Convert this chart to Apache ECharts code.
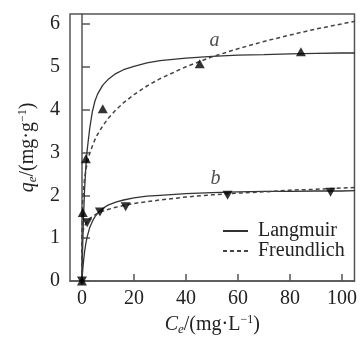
<!DOCTYPE html>
<html>
<head>
<meta charset="utf-8">
<script src="https://cdn.jsdelivr.net/npm/echarts@6/dist/echarts.min.js"></script>
<style>
* { margin: 0; padding: 0; }
html, body { width: 360px; height: 341px; background: #fff; }
</style>
</head>
<body>
<div id="chart" style="width: 360px;height: 341px;"></div>
<script>
var cGrid = [0, 0.01, 0.1, 0.2, 0.5, 1, 1.5, 2, 3, 4, 5, 6, 8, 10, 13, 16, 20, 25, 30, 40, 50, 60, 70, 80, 90, 100, 105];
var langA = [0, 0.04, 0.33, 0.62, 1.32, 2.13, 2.67, 3.05, 3.57, 3.95, 4.20, 4.36, 4.57, 4.70, 4.84, 4.93, 5.01, 5.09, 5.14, 5.20, 5.24, 5.27, 5.28, 5.30, 5.31, 5.32, 5.32];
var freA  = [0, 0.95, 1.51, 1.73, 2.08, 2.39, 2.59, 2.75, 2.98, 3.15, 3.30, 3.42, 3.62, 3.79, 3.99, 4.16, 4.35, 4.55, 4.72, 5.00, 5.23, 5.42, 5.59, 5.74, 5.88, 6.00, 6.06];
var langB = [0, 0.01, 0.10, 0.18, 0.40, 0.68, 0.88, 1.03, 1.25, 1.39, 1.50, 1.58, 1.69, 1.77, 1.84, 1.89, 1.94, 1.98, 2.00, 2.04, 2.06, 2.08, 2.09, 2.09, 2.10, 2.10, 2.11];
var freB  = [0, 0.76, 0.99, 1.07, 1.19, 1.28, 1.34, 1.39, 1.46, 1.50, 1.54, 1.58, 1.63, 1.67, 1.72, 1.76, 1.81, 1.85, 1.89, 1.96, 2.01, 2.05, 2.08, 2.12, 2.14, 2.17, 2.18];

// measured points
var ptsAC = [0, 0.3, 1.5, 8, 45.3, 84.2];
var ptsAQ = [0, 1.6, 2.85, 4.02, 5.07, 5.35];
var ptsBC = [0, 2, 6.9, 16.8, 56, 95.6];
var ptsBQ = [0, 1.36, 1.61, 1.73, 2.0, 2.07];

// curve tags
var tagText = ['a', 'b'];
var tagC = [51, 51.4];
var tagQ = [5.6, 2.39];

var xTicks = [0, 20, 40, 60, 80, 100];
var yTicks = [0, 1, 2, 3, 4, 5, 6];

function zip(xs, ys) {
  return xs.map(function (x, i) { return [x, ys[i]]; });
}

var font = 'Liberation Serif, Times New Roman, serif';
var ink = '#222';
var axisCol = '#555';

var richName = {
  i: { fontFamily: font, fontSize: 20, fontStyle: 'italic', color: ink, lineHeight: 22 },
  s: { fontFamily: font, fontSize: 13, fontStyle: 'italic', color: ink, verticalAlign: 'bottom', lineHeight: 13 },
  p: { fontFamily: font, fontSize: 12, color: ink, verticalAlign: 'top', lineHeight: 12 }
};

var chart = echarts.init(document.getElementById('chart'));
chart.setOption({
  animation: false,
  grid: {
    left: 70, right: 3, top: 14, bottom: 52,
    show: true, borderColor: axisCol, borderWidth: 1.5
  },
  legend: {
    data: ['Langmuir', 'Freundlich'],
    orient: 'vertical',
    left: 222, top: 221, padding: 0,
    itemWidth: 25, itemHeight: 14, itemGap: 0,
    itemStyle: { color: 'transparent', borderColor: 'transparent', borderWidth: 0 },
    textStyle: { fontFamily: font, fontSize: 20, color: ink, lineHeight: 19, padding: [0, 0, 0, 5] }
  },
  xAxis: {
    type: 'value',
    min: -4.6, max: 104.8,
    splitLine: { show: false },
    axisLine: { onZero: false, lineStyle: { color: axisCol, width: 1.5 } },
    axisTick: { inside: true, length: 7, customValues: xTicks, lineStyle: { color: axisCol, width: 1.5 } },
    axisLabel: { customValues: xTicks, margin: 8, fontFamily: font, fontSize: 20, color: ink },
    name: '{i|C}{s|e}/(mg·L{p|−1})',
    nameLocation: 'middle',
    nameGap: 33,
    nameTextStyle: { fontFamily: font, fontSize: 20, color: ink, lineHeight: 22, rich: richName }
  },
  yAxis: {
    type: 'value',
    min: 0, max: 6.23,
    splitLine: { show: false },
    axisLine: { lineStyle: { color: axisCol, width: 1.5 } },
    axisTick: { inside: true, length: 8, customValues: yTicks, lineStyle: { color: axisCol, width: 1.5 } },
    axisLabel: { customValues: yTicks, margin: 10, fontFamily: font, fontSize: 20, color: ink },
    name: '{i|q}{s|e}/(mg·g{p|−1})',
    nameLocation: 'middle',
    nameRotate: 90,
    nameGap: 30,
    nameTextStyle: { fontFamily: font, fontSize: 20, color: ink, lineHeight: 22, rich: richName }
  },
  series: [
    {
      name: 'Langmuir', type: 'line', data: zip(cGrid, langA),
      showSymbol: false, symbol: 'none',
      lineStyle: { color: '#333', width: 1.3, type: 'solid' }, itemStyle: { color: '#333' }
    },
    {
      name: 'Freundlich', type: 'line', data: zip(cGrid, freA),
      showSymbol: false, symbol: 'none',
      lineStyle: { color: '#444', width: 1.5, type: [4, 3] }, itemStyle: { color: '#444' }
    },
    {
      name: 'Langmuir', type: 'line', data: zip(cGrid, langB),
      showSymbol: false, symbol: 'none',
      lineStyle: { color: '#333', width: 1.3, type: 'solid' }, itemStyle: { color: '#333' }
    },
    {
      name: 'Freundlich', type: 'line', data: zip(cGrid, freB),
      showSymbol: false, symbol: 'none',
      lineStyle: { color: '#444', width: 1.5, type: [4, 3] }, itemStyle: { color: '#444' }
    },
    {
      name: 'pointsA', type: 'scatter', data: zip(ptsAC, ptsAQ),
      symbol: 'triangle', symbolSize: [10, 9], itemStyle: { color: '#000' }, z: 5
    },
    {
      name: 'pointsB', type: 'scatter', data: zip(ptsBC, ptsBQ),
      symbol: 'triangle', symbolRotate: 180, symbolSize: [10, 9], itemStyle: { color: '#000' }, z: 5
    },
    {
      name: 'tags', type: 'scatter', symbolSize: 0,
      data: tagText.map(function (t, i) { return { value: [tagC[i], tagQ[i]], name: t }; }),
      label: {
        show: true, position: 'inside', formatter: '{b}',
        fontFamily: font, fontSize: 20, fontStyle: 'italic', color: ink
      }
    }
  ]
});
</script>
</body>
</html>
